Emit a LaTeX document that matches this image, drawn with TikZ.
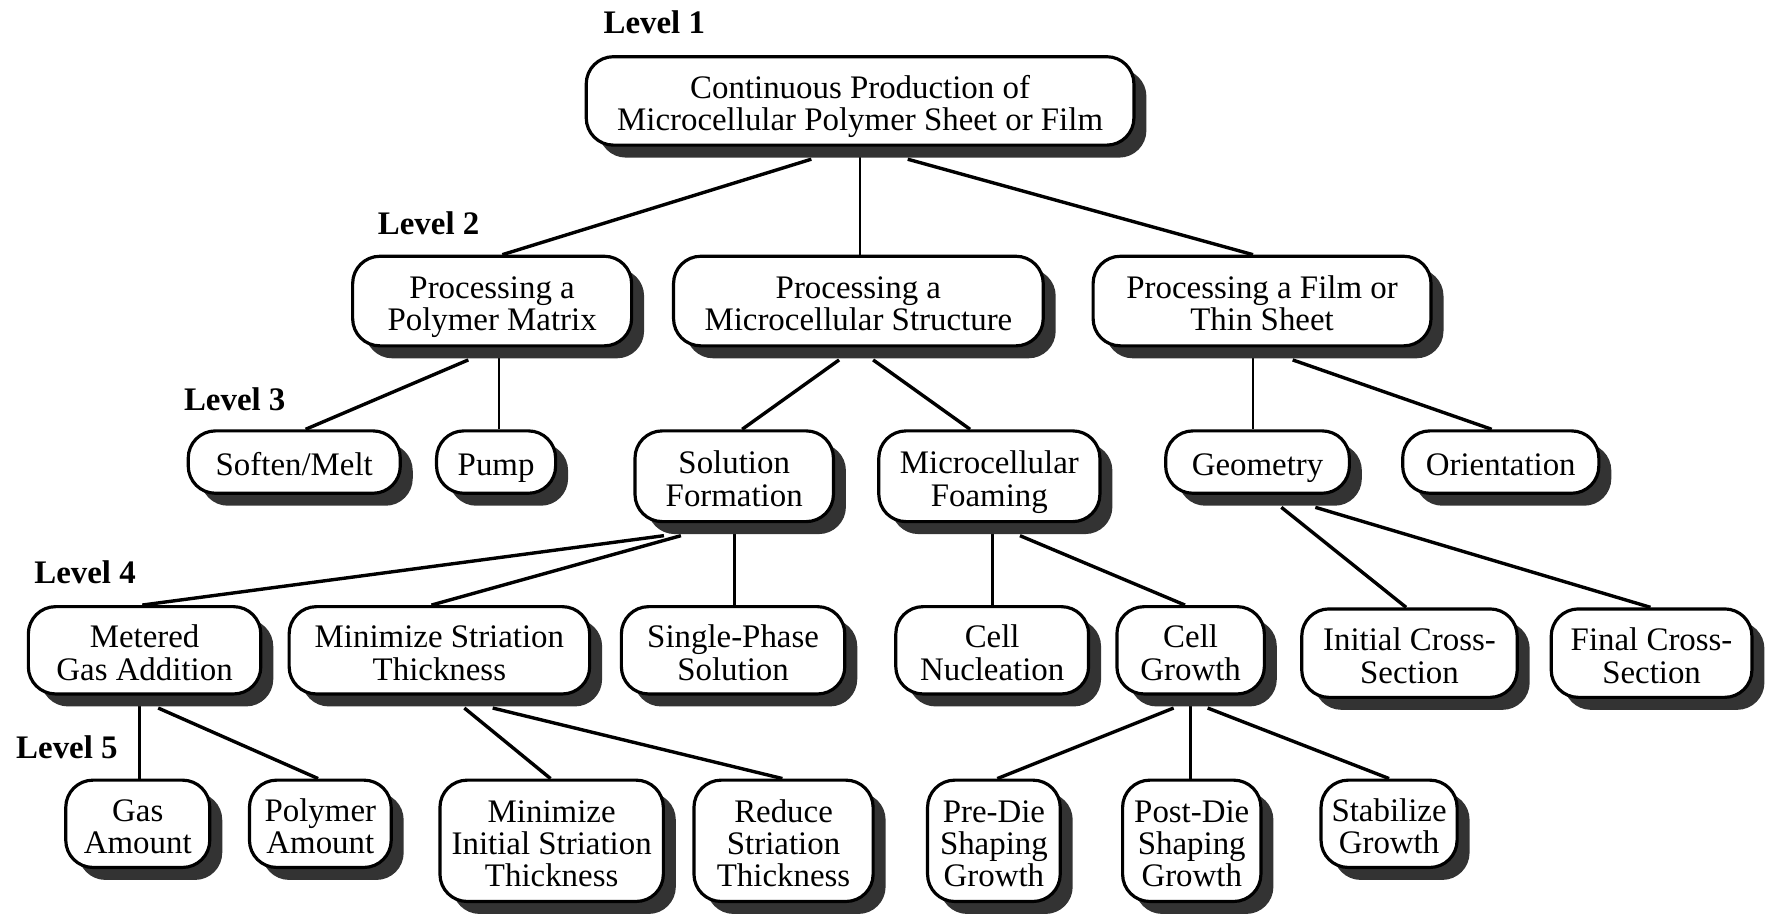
\documentclass[tikz,border=0pt]{standalone}
\usepackage{fontspec}
\setmainfont{Liberation Serif}
\usetikzlibrary{shadows,backgrounds}
% fixed first-line height and last-line depth, so every box sets its lines alike
\newcommand{\capstrut}{\rule{0pt}{30.5pt}}
\newcommand{\basestrut}{\rule[-6.3pt]{0pt}{0pt}}

\begin{document}
\begin{tikzpicture}[x=1pt,y=-1pt,
  box/.style={draw, line width=2.8pt, fill=white, rounded corners=24pt,
    align=center, inner sep=0pt,
    font=\fontsize{29}{28.5}\selectfont,
    drop shadow={shadow xshift=11pt, shadow yshift=-11pt, fill=black!80, opacity=1}},
  level/.style={font=\bfseries\fontsize{29}{29}\selectfont, inner sep=0pt},
  link/.style={line width=3pt},
  stem/.style={line width=2.3pt}]
\useasboundingbox (0,0) rectangle (1568,810);

% level captions
\node[level] (l1) at (577,20)  {Level 1};
\node[level] (l2) at (378,197) {Level 2};
\node[level] (l3) at (207,352) {Level 3};
\node[level] (l4) at (75,505)  {Level 4};
\node[level] (l5) at (59,659)  {Level 5};

% level 1
\node[box, minimum width=483pt, minimum height=78pt] (root) at (758.5,89)
  {\capstrut Continuous Production of\\Microcellular Polymer Sheet or Film\basestrut};

% level 2
\node[box, minimum width=246pt, minimum height=79pt] (p1) at (434,265.5) {\capstrut Processing a\\Polymer Matrix\basestrut};
\node[box, minimum width=326pt, minimum height=79pt] (p2) at (757,265.5) {\capstrut Processing a\\Microcellular Structure\basestrut};
\node[box, minimum width=298pt, minimum height=79pt] (p3) at (1113,265.5) {\capstrut Processing a Film or\\Thin Sheet\basestrut};

% level 3
\node[box, minimum width=187pt, minimum height=55pt] (soften) at (259.5,407.5) {\capstrut Soften/Melt\basestrut};
\node[box, minimum width=105pt, minimum height=55pt] (pump) at (437.5,407.5) {\capstrut Pump\basestrut};
\node[box, minimum width=175pt, minimum height=80pt] (solution) at (647.5,420) {\capstrut Solution\\Formation\basestrut};
\node[box, minimum width=195pt, minimum height=80pt] (foaming) at (872.5,420) {\capstrut Microcellular\\Foaming\basestrut};
\node[box, minimum width=162pt, minimum height=55pt] (geometry) at (1109,407.5) {\capstrut Geometry\basestrut};
\node[box, minimum width=173pt, minimum height=55pt] (orient) at (1323.5,407.5) {\capstrut Orientation\basestrut};

% level 4
\node[box, minimum width=205pt, minimum height=77pt] (metered) at (127.5,573.5) {\capstrut Metered\\Gas Addition\basestrut};
\node[box, minimum width=265pt, minimum height=77pt] (minstr) at (387.5,573.5) {\capstrut Minimize Striation\\Thickness\basestrut};
\node[box, minimum width=197pt, minimum height=77pt] (single) at (646.5,573.5) {\capstrut Single-Phase\\Solution\basestrut};
\node[box, minimum width=170pt, minimum height=77pt] (nucl) at (875,573.5) {\capstrut Cell\\Nucleation\basestrut};
\node[box, minimum width=130pt, minimum height=77pt] (growth) at (1050,573.5) {\capstrut Cell\\Growth\basestrut};
\node[box, minimum width=190pt, minimum height=78pt] (initial) at (1243,576) {\capstrut Initial Cross-\\Section\basestrut};
\node[box, minimum width=177pt, minimum height=78pt] (final) at (1456.5,576) {\capstrut Final Cross-\\Section\basestrut};

% level 5
\node[box, minimum width=127pt, minimum height=77pt] (gas) at (121.5,726.5) {\capstrut Gas\\Amount\basestrut};
\node[box, minimum width=125pt, minimum height=77pt] (polyam) at (282.5,726.5) {\capstrut Polymer\\Amount\basestrut};
\node[box, minimum width=197pt, minimum height=107pt] (mininit) at (486.5,741.5) {\capstrut Minimize\\Initial Striation\\Thickness\basestrut};
\node[box, minimum width=158pt, minimum height=107pt] (reduce) at (691,741.5) {\capstrut Reduce\\Striation\\Thickness\basestrut};
\node[box, minimum width=117pt, minimum height=107pt] (predie) at (876.5,741.5) {\capstrut Pre-Die\\Shaping\\Growth\basestrut};
\node[box, minimum width=122pt, minimum height=107pt] (postdie) at (1051,741.5) {\capstrut Post-Die\\Shaping\\Growth\basestrut};
\node[box, minimum width=120pt, minimum height=77pt] (stab) at (1225,726.5) {\capstrut Stabilize\\Growth\basestrut};

% connectors, kept behind the boxes
\begin{scope}[on background layer]
  \draw[link] ([shift={(-43,11)}]root.south) -- ([xshift=9]p1.north);
  \draw[stem] (root.south) -- (root.south |- p2.north);
  \draw[link] ([shift={(42,11)}]root.south) -- ([xshift=-8]p3.north);

  \draw[link] ([shift={(-21,11)}]p1.south) -- ([xshift=10]soften.north);
  \draw[stem] ([xshift=6]p1.south) -- ([xshift=2.5]pump.north);
  \draw[link] ([shift={(-17,11)}]p2.south) -- ([xshift=7]solution.north);
  \draw[link] ([shift={(13,11)}]p2.south) -- ([xshift=-17]foaming.north);
  \draw[stem] ([xshift=-8]p3.south) -- ([xshift=-4]geometry.north);
  \draw[link] ([shift={(27,11)}]p3.south) -- ([xshift=-8]orient.north);

  \draw[link] ([shift={(-62,11)}]solution.south) -- ([xshift=-2]metered.north);
  \draw[link] ([shift={(-47,11)}]solution.south) -- ([xshift=-7]minstr.north);
  \draw[stem] (solution.south) -- (solution.south |- single.north);
  \draw[stem] ([xshift=2.5]foaming.south) -- (nucl.north);
  \draw[link] ([shift={(27,11)}]foaming.south) -- ([xshift=-5]growth.north);
  \draw[link] ([shift={(21,11)}]geometry.south) -- ([xshift=-3]initial.north);
  \draw[link] ([shift={(51,11)}]geometry.south) -- ([xshift=-1]final.north);

  \draw[stem] ([xshift=-4.5]metered.south) -- ([xshift=1.5]gas.north);
  \draw[link] ([shift={(12,11)}]metered.south) -- ([xshift=-2]polyam.north);
  \draw[link] ([shift={(22,11)}]minstr.south) -- ([xshift=-1]mininit.north);
  \draw[link] ([shift={(47,11)}]minstr.south) -- ([xshift=-1]reduce.north);
  \draw[link] ([shift={(-15,11)}]growth.south) -- ([xshift=3]predie.north);
  \draw[stem] (growth.south) -- (growth.south |- postdie.north);
  \draw[link] ([shift={(15,11)}]growth.south) -- (stab.north);
\end{scope}
\end{tikzpicture}
\end{document}
